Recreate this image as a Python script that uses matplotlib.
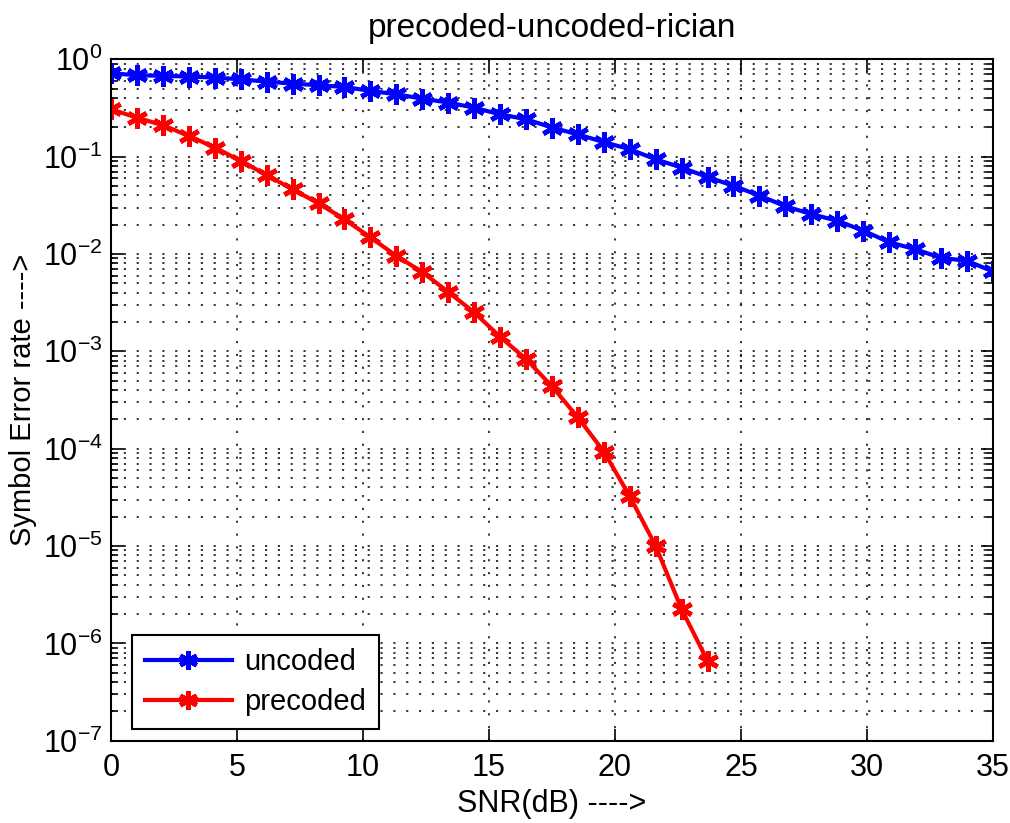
import numpy as np
import matplotlib
matplotlib.use("Agg")
import matplotlib.pyplot as plt
from matplotlib.ticker import LogLocator, FixedLocator

# --- data ---
snr_db = np.linspace(0, 35, 35)

ser_uncoded = [0.718, 0.685, 0.675, 0.664, 0.649, 0.622, 0.589, 0.562, 0.541, 0.520,
               0.473, 0.437, 0.394, 0.359, 0.318, 0.272, 0.242, 0.199, 0.169, 0.141,
               0.119, 0.0938, 0.0771, 0.0617, 0.0501, 0.0398, 0.0309, 0.0257, 0.0219,
               0.0174, 0.0132, 0.0112, 0.00912, 0.00851, 0.00661]

ser_precoded = [0.306, 0.251, 0.210, 0.163, 0.124, 0.0902, 0.0646, 0.0461, 0.0331,
                0.0227, 0.0148, 0.00955, 0.00652, 0.00407, 0.00251, 0.00141, 8.32e-4,
                4.37e-4, 2.09e-4, 9.33e-5, 3.24e-5, 1.0e-5, 2.24e-6, 6.61e-7]

x_ticks = [0, 5, 10, 15, 20, 25, 30, 35]
y_exps = [0, -1, -2, -3, -4, -5, -6, -7]

plt.rcParams['font.family'] = ['Liberation Sans', 'DejaVu Sans']
plt.rcParams['mathtext.default'] = 'regular'

fig = plt.figure(figsize=(10.1, 8.23), dpi=100)
ax = fig.add_axes([0.110, 0.100, 0.873, 0.828])

star = (6, 2, 0)
ax.plot(snr_db, ser_uncoded, color='b', lw=3, marker=star, ms=15, mew=3.4, label='uncoded')
ax.plot(snr_db[:len(ser_precoded)], ser_precoded, color='r', lw=3, marker=star, ms=15,
        mew=3.4, label='precoded')

ax.set_yscale('log')
ax.set_xlim(0, 35)
ax.set_ylim(1e-7, 1)
ax.xaxis.set_major_locator(FixedLocator(x_ticks))
ax.yaxis.set_major_locator(FixedLocator([10.0 ** e for e in y_exps]))
ax.set_yticklabels([f'$10^{{{e}}}$' for e in y_exps])
ax.yaxis.set_minor_locator(LogLocator(base=10, subs=np.arange(2, 10), numticks=20))

dots = (0, (1.4, 7.0))
ax.grid(True, axis='x', which='major', color='k', lw=1.1, linestyle=dots)
ax.grid(True, axis='y', which='both', color='k', lw=1.1, linestyle=dots)

ax.tick_params(which='both', direction='in', top=True, right=True, width=1.2, colors='k')
ax.tick_params(axis='x', labelsize=22, pad=9)
ax.tick_params(axis='y', labelsize=22, pad=6)
ax.tick_params(which='major', length=9)
ax.tick_params(which='minor', length=5)
for s in ax.spines.values():
    s.set_linewidth(1.5)

ax.set_title('precoded-uncoded-rician', fontsize=24, pad=16)
ax.set_xlabel('SNR(dB) ---->', fontsize=22, labelpad=4)
ax.set_ylabel('Symbol Error rate ---->', fontsize=21, labelpad=4)

leg = ax.legend(loc='lower left', fontsize=21, fancybox=False, framealpha=1,
                edgecolor='k', borderaxespad=0.4, handlelength=3.0, markerscale=0.9,
                labelspacing=0.4, handletextpad=0.4, borderpad=0.45,
                bbox_to_anchor=(0.01, 0.0))
leg.get_frame().set_linewidth(1.5)

fig.savefig('out.png', dpi=100)
